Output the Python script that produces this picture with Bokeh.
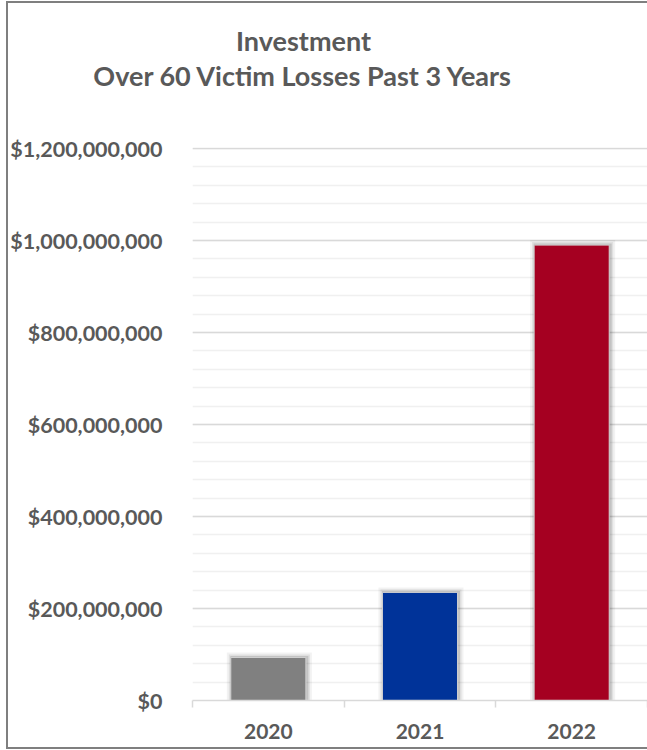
import numpy as np
from bokeh.plotting import figure
from bokeh.layouts import column
from bokeh.models import FixedTicker, NumeralTickFormatter, Range1d, ColumnDataSource
from bokeh.core.properties import value
from bokeh.embed import file_html
from bokeh.resources import INLINE

# ---- data ----
years = ["2020", "2021", "2022"]
losses = [93_500_000, 235_000_000, 990_000_000]
bar_colors = ["#808080", "#003399", "#A50021"]
y_ticks = [0, 200_000_000, 400_000_000, 600_000_000, 800_000_000, 1_000_000_000, 1_200_000_000]
y_minor = list(range(0, 1_200_000_001, 40_000_000))
title_lines = ["Investment", "Over 60 Victim Losses Past 3 Years"]

FONT = "Lato"
TXT = "#595959"

W, H = 647, 750
TH = 110                      # height of the title strip
FL, FT, FB = 192, 147, 700    # plot frame edges in page pixels
Y_MAX = 1_200_000_000 * (FB - FT) / 552.0

# ---- title strip (pixel coordinate space) ----
tp = figure(width=W, height=TH, output_backend="svg", toolbar_location=None,
            x_range=Range1d(0, W), y_range=Range1d(TH, 0),
            x_axis_type=None, y_axis_type=None, min_border=0,
            min_border_left=0, min_border_right=0, min_border_top=0, min_border_bottom=0)
tp.outline_line_color = None
tp.background_fill_color = None
tp.border_fill_color = None
tp.title = None
tp.grid.visible = False
tsrc = ColumnDataSource(dict(x=[303, 303], y=[40, 75], text=title_lines))
tp.text(x="x", y="y", text="text", source=tsrc, text_align="center", text_baseline="middle",
        text_font=value(FONT), text_font_style="bold", text_font_size="27px", text_color=TXT)

# ---- main chart ----
xs = np.arange(len(years)) + 0.5
px_x = len(years) / (W - FL)
px_y = Y_MAX / (FB - FT)

p = figure(width=W, height=H - TH, output_backend="svg", toolbar_location=None,
           x_range=Range1d(0, len(years)), y_range=Range1d(0, Y_MAX),
           min_border_left=FL, min_border_right=0, min_border_top=FT - TH,
           min_border_bottom=H - FB)
p.outline_line_color = None
p.border_fill_color = None
p.title = None

src = ColumnDataSource(dict(x=xs, top=losses, color=bar_colors))
for k, a in [(5, 0.05), (3, 0.08), (1.5, 0.12)]:
    shadow = ColumnDataSource(dict(x=xs + 1 * px_x, top=[v + k * px_y for v in losses]))
    p.vbar(x="x", top="top", bottom=0, width=0.495 + 2 * k * px_x, source=shadow,
           fill_color="black", fill_alpha=a, line_color=None)
p.vbar(x="x", top="top", width=0.495, source=src, fill_color="color", line_color="#d0d0d0", line_width=1)

# y axis
p.yaxis.ticker = FixedTicker(ticks=y_ticks, minor_ticks=y_minor)
p.yaxis.formatter = NumeralTickFormatter(format="$0,0")
p.yaxis.axis_line_color = None
p.yaxis.major_tick_line_color = None
p.yaxis.minor_tick_line_color = None
p.yaxis.major_tick_out = 0
p.yaxis.major_label_standoff = 26
p.yaxis.major_label_text_font = FONT
p.yaxis.major_label_text_font_style = "bold"
p.yaxis.major_label_text_font_size = "21.5px"
p.yaxis.major_label_text_color = TXT

p.ygrid.grid_line_color = "#d9d9d9"
p.ygrid.grid_line_width = 1.5
p.ygrid.minor_grid_line_color = "#f0f0f0"
p.ygrid.minor_grid_line_width = 1.5
p.xgrid.grid_line_color = None

# x axis
p.xaxis.ticker = FixedTicker(ticks=list(xs), minor_ticks=list(range(len(years) + 1)))
p.xaxis.major_label_overrides = {float(x): y for x, y in zip(xs, years)}
p.xaxis.axis_line_color = "#d9d9d9"
p.xaxis.axis_line_width = 1.5
p.xaxis.major_tick_line_color = None
p.xaxis.minor_tick_line_color = "#d9d9d9"
p.xaxis.minor_tick_line_width = 1.5
p.xaxis.minor_tick_out = 7
p.xaxis.minor_tick_in = 0
p.xaxis.major_tick_out = 0
p.xaxis.major_tick_in = 0
p.xaxis.major_label_standoff = 16
p.xaxis.major_label_text_font = FONT
p.xaxis.major_label_text_font_style = "bold"
p.xaxis.major_label_text_font_size = "21px"
p.xaxis.major_label_text_color = TXT

# nest the title strip so its frame is not aligned with the chart frame
layout = column(column(tp, spacing=0), p, spacing=0)
g = "linear-gradient(#7f7f7f,#7f7f7f)"
layout.styles = {
    "background": f"{g} 6px 1px/2px 748px no-repeat, {g} 6px 1px/641px 2px no-repeat, "
                  f"{g} 6px 747px/641px 2px no-repeat, #ffffff"
}

open("out.html", "w").write(file_html(layout, INLINE))
